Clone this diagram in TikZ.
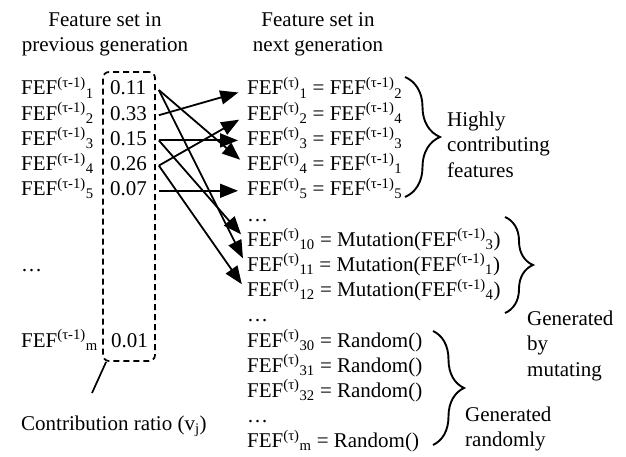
\documentclass[tikz,border=0pt]{standalone}
\usepackage{fontspec}
\setmainfont{Liberation Serif}
\usetikzlibrary{arrows.meta,decorations.pathreplacing}

\newcommand{\fefprev}[1]{FEF\textsuperscript{(τ-1)}\textsubscript{#1}}
\newcommand{\fefnext}[1]{FEF\textsuperscript{(τ)}\textsubscript{#1}}

\tikzset{
  feftxt/.style={inner sep=0pt, font=\fontsize{21}{25.2}\selectfont},
  fefrow/.style={feftxt, anchor=base west, text height=14pt, text depth=4pt},
  fefhead/.style={feftxt, anchor=north, align=center},
  feflab/.style={feftxt, anchor=north west, align=left},
  fefbox/.style={draw, line width=1.7pt, dash pattern=on 6pt off 4pt, rounded corners=6pt},
  fefarr/.style={-{Triangle[length=18pt,width=14pt]}, line width=1.8pt, shorten >=9pt},
  fefbrace/.style={decorate, decoration={brace, amplitude=#1}, line width=1.9pt}
}

\begin{document}
\begin{tikzpicture}[x=1pt,y=-1pt]
        \useasboundingbox (0,0) rectangle (626,457);

        \node[fefhead] (hprev) at (105,12) {Feature set in\\previous generation};
        \node[fefhead] (hnext) at (318,12) {Feature set in\\next generation};

        % previous generation and its ratios
        \node[fefrow] (p1) at (21,95) {\fefprev{1}};
        \node[fefrow] (p2) at (21,120.2) {\fefprev{2}};
        \node[fefrow] (p3) at (21,145.4) {\fefprev{3}};
        \node[fefrow] (p4) at (21,170.6) {\fefprev{4}};
        \node[fefrow] (p5) at (21,195.8) {\fefprev{5}};
        \node[fefrow] (pdots) at (21,271.4) {…};
        \node[fefrow] (pm) at (21,347) {\fefprev{m}};

        \node[fefrow] (v1) at (110,95) {0.11};
        \node[fefrow] (v2) at (110,120.2) {0.33};
        \node[fefrow] (v3) at (110,145.4) {0.15};
        \node[fefrow] (v4) at (110,170.6) {0.26};
        \node[fefrow] (v5) at (110,195.8) {0.07};
        \node[fefrow] (vm) at (111,347) {0.01};

        \node[fefbox, minimum width=52pt, minimum height=289pt] (box) at (129,216.5) {};
        \coordinate (ptr) at (92,393);
        \draw[line width=1.7pt] ([xshift=4pt]box.south west) -- (ptr);
        \node[fefrow] (ratio) at (21,430) {Contribution ratio (v\textsubscript{j})};

        % next generation
        \node[fefrow] (n1) at (247,95) {\fefnext{1} = \fefprev{2}};
        \node[fefrow] (n2) at (247,120.2) {\fefnext{2} = \fefprev{4}};
        \node[fefrow] (n3) at (247,145.4) {\fefnext{3} = \fefprev{3}};
        \node[fefrow] (n4) at (247,170.6) {\fefnext{4} = \fefprev{1}};
        \node[fefrow] (n5) at (247,195.8) {\fefnext{5} = \fefprev{5}};
        \node[fefrow] (ndots1) at (247,221) {…};
        \node[fefrow] (n10) at (247,246.2) {\fefnext{10} = Mutation(\fefprev{3})};
        \node[fefrow] (n11) at (247,271.4) {\fefnext{11} = Mutation(\fefprev{1})};
        \node[fefrow] (n12) at (247,296.6) {\fefnext{12} = Mutation(\fefprev{4})};
        \node[fefrow] (ndots2) at (247,321.8) {…};
        \node[fefrow] (n30) at (247,347) {\fefnext{30} = Random()};
        \node[fefrow] (n31) at (247,372.2) {\fefnext{31} = Random()};
        \node[fefrow] (n32) at (247,397.4) {\fefnext{32} = Random()};
        \node[fefrow] (ndots3) at (247,422.6) {…};
        \node[fefrow] (nm) at (247,447.8) {\fefnext{m} = Random()};

        \draw[fefarr] ([xshift=3pt]v1.east -| box.east) -- (n4.west);
        \draw[fefarr] ([xshift=3pt]v1.east -| box.east) -- (n11.west);
        \draw[fefarr] ([xshift=3pt]v2.east -| box.east) -- (n1.west);
        \draw[fefarr] ([xshift=3pt]v3.east -| box.east) -- (n3.west);
        \draw[fefarr] ([xshift=3pt]v3.east -| box.east) -- (n10.west);
        \draw[fefarr] ([xshift=3pt]v4.east -| box.east) -- (n2.west);
        \draw[fefarr] ([xshift=3pt]v4.east -| box.east) -- (n12.west);
        \draw[fefarr] ([xshift=3pt]v5.east -| box.east) -- (n5.west);

        % groups
        \draw[fefbrace=35pt] (405,77) -- (405,197);
        \draw[fefbrace=28pt] (505,217) -- (505,313);
        \draw[fefbrace=31pt] (433,331) -- (433,445);

        \node[feflab] (high) at (447,112) {Highly\\contributing\\features};
        \node[feflab] (mut) at (527,311) {Generated\\by\\mutating};
        \node[feflab] (rand) at (465,407) {Generated\\randomly};
    \end{tikzpicture}
\end{document}
